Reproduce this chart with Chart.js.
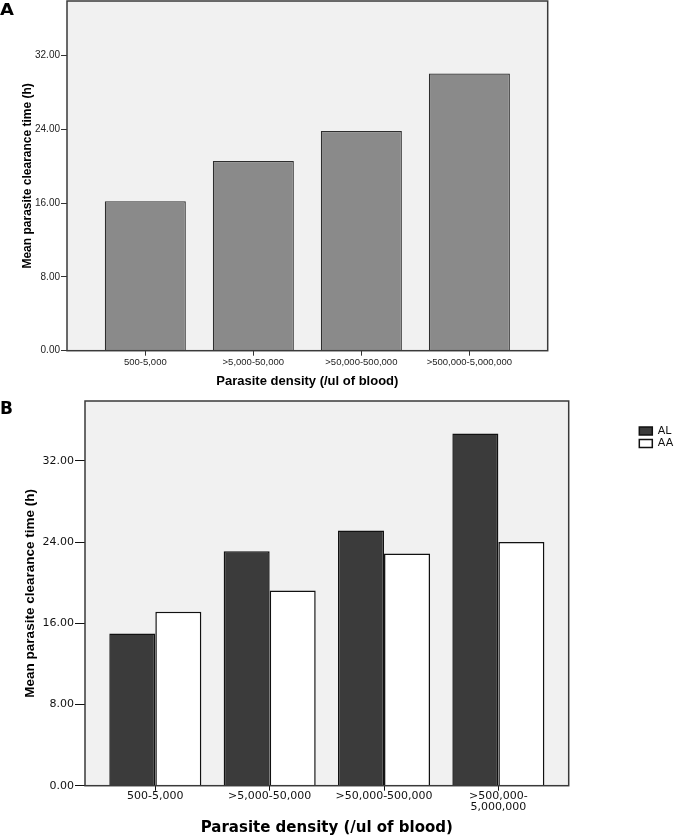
<!DOCTYPE html>
<html><head><meta charset="utf-8">
<script src="https://cdn.jsdelivr.net/npm/chart.js@4"></script>
<style>
html,body{margin:0;padding:0;background:#fff;width:675px;height:836px;overflow:hidden;position:relative;}
#wa{position:absolute;left:0;top:0;width:675px;height:390px;}
#wb{position:absolute;left:0;top:390px;width:675px;height:446px;overflow:hidden;}
.lab{position:absolute;left:0;font-family:"DejaVu Sans",sans-serif;font-weight:bold;color:#000;line-height:1;transform-origin:left top;}
</style></head><body>
<div id="wa"><canvas id="ca" width="675" height="390"></canvas></div>
<div id="wb"><canvas id="cb" width="710" height="446"></canvas></div>
<div class="lab" style="top:3px;font-size:15px;transform:scaleX(1.2)">A</div>
<div class="lab" style="top:400px;font-size:17px">B</div>
<script>
// ---- data ----
const categoriesA = ['500-5,000', '>5,000-50,000', '>50,000-500,000', '>500,000-5,000,000'];
const valuesA = [16.2, 20.55, 23.8, 30.05];
const categoriesB = ['500-5,000', '>5,000-50,000', '>50,000-500,000', ['>500,000-', '5,000,000']];
const seriesLabels = ['AL', 'AA'];
const seriesAL = [15.0, 23.1, 25.15, 34.7];
const seriesAA = [17.13, 19.24, 22.88, 24.0];
const yTickValues = [0, 8, 16, 24, 32];
const yMax = 37.9;
const yTitle = 'Mean parasite clearance time (h)';
const xTitle = 'Parasite density (/ul of blood)';

const ARIAL = '"Liberation Sans", Arial, sans-serif';
const DEJAVU = '"DejaVu Sans", sans-serif';

const panelBox = {
  id: 'panelBox',
  beforeDraw(chart) {
    const {ctx, chartArea: a} = chart;
    ctx.save();
    ctx.fillStyle = '#f1f1f1';
    ctx.fillRect(a.left, a.top, a.right - a.left, a.bottom - a.top);
    ctx.restore();
  },
  afterDatasetsDraw(chart) {
    const {ctx, chartArea: a} = chart;
    ctx.save();
    ctx.strokeStyle = '#3a3a3a';
    ctx.lineWidth = 1.5;
    ctx.strokeRect(a.left, a.top, a.right - a.left, a.bottom - a.top);
    ctx.restore();
  }
};

function pts(vals) { return vals.map((v, i) => ({x: i, y: v})); }
function zeroPad(s) { s.paddingTop = 0; s.paddingBottom = 0; s.paddingLeft = 0; s.paddingRight = 0; }

// ---- Chart A ----
new Chart(document.getElementById('ca'), {
  type: 'bar',
  data: {
    datasets: [{
      data: pts(valuesA),
      backgroundColor: '#8a8a8a',
      borderColor: '#2e2e2e',
      borderWidth: 1.2,
      barPercentage: 1,
      categoryPercentage: 0.75
    }]
  },
  options: {
    responsive: false,
    animation: false,
    layout: {padding: {top: 1, left: 0, right: 127.3, bottom: 0}},
    plugins: {legend: {display: false}, tooltip: {enabled: false}},
    scales: {
      x: {
        type: 'linear', min: -0.725, max: 3.725, offset: false,
        afterBuildTicks: s => { s.ticks = categoriesA.map((_, i) => ({value: i})); },
        afterFit: s => { s.height = 39.3; zeroPad(s); },
        ticks: {callback: v => categoriesA[v], font: {family: ARIAL, size: 9.5}, color: '#222', padding: 1, maxRotation: 0, autoSkip: false},
        grid: {display: true, drawOnChartArea: false, drawTicks: true, tickLength: 5, tickColor: '#333', offset: false},
        border: {display: false},
        title: {display: true, text: xTitle, font: {family: ARIAL, size: 13, weight: 'bold', lineHeight: 1}, color: '#000', padding: {top: 0, bottom: 2.5}}
      },
      y: {
        min: 0, max: yMax,
        afterBuildTicks: s => { s.ticks = yTickValues.map(v => ({value: v})); },
        afterFit: s => { s.width = 67; zeroPad(s); },
        ticks: {callback: v => Number(v).toFixed(2), font: {family: ARIAL, size: 10}, color: '#222', padding: 1},
        grid: {display: true, drawOnChartArea: false, drawTicks: true, tickLength: 6, tickColor: '#333'},
        border: {display: false},
        title: {display: true, text: yTitle, font: {family: ARIAL, size: 12, weight: 'bold', lineHeight: 1}, color: '#000', padding: {top: 21.5, bottom: 0}}
      }
    }
  },
  plugins: [panelBox]
});

// ---- Chart B ----
const legendFontSize = 11, legendBoxW = 13, legendPad = 1.5;
const cbEl = document.getElementById('cb');
const mctx = cbEl.getContext('2d');
mctx.font = 'normal ' + legendFontSize + 'px ' + DEJAVU;
const maxTextW = Math.max(...seriesLabels.map(t => mctx.measureText(t).width));
const legendWidth = legendPad + legendBoxW + legendFontSize / 2 + maxTextW + 10;
const legendLeft = 637.8;
const rightPadB = cbEl.width - legendLeft - legendWidth;

new Chart(cbEl, {
  type: 'bar',
  data: {
    datasets: [{
      label: seriesLabels[0],
      data: pts(seriesAL),
      backgroundColor: '#3b3b3b',
      borderColor: '#111',
      borderWidth: 1.5,
      barPercentage: 1,
      categoryPercentage: 0.805
    }, {
      label: seriesLabels[1],
      data: pts(seriesAA),
      backgroundColor: '#ffffff',
      borderColor: '#111',
      borderWidth: 1.5,
      barPercentage: 1,
      categoryPercentage: 0.805
    }]
  },
  options: {
    responsive: false,
    animation: false,
    layout: {padding: {top: 11, left: 0, right: rightPadB, bottom: 0}},
    plugins: {
      tooltip: {enabled: false},
      legend: {
        display: true, position: 'right', align: 'start',
        title: {display: true, text: ' ', padding: {top: 22, bottom: 0}, font: {size: 1, lineHeight: 1}},
        labels: {boxWidth: legendBoxW, boxHeight: 8, padding: legendPad, font: {family: DEJAVU, size: legendFontSize}, color: '#111'}
      }
    },
    scales: {
      x: {
        type: 'linear', min: -0.615, max: 3.615, offset: false,
        afterBuildTicks: s => { s.ticks = categoriesB.map((_, i) => ({value: i})); },
        afterFit: s => { s.height = 50.3; zeroPad(s); },
        ticks: {callback: v => categoriesB[v], font: {family: DEJAVU, size: 11, lineHeight: 1}, color: '#111', padding: 0, maxRotation: 0, autoSkip: false},
        grid: {display: true, drawOnChartArea: false, drawTicks: true, tickLength: 5, tickColor: '#111', offset: false},
        border: {display: false},
        title: {display: true, text: xTitle, font: {family: DEJAVU, size: 15, weight: 'bold', lineHeight: 1}, color: '#000', padding: {top: 0, bottom: 0}}
      },
      y: {
        min: 0, max: yMax,
        afterBuildTicks: s => { s.ticks = yTickValues.map(v => ({value: v})); },
        afterFit: s => { s.width = 85; zeroPad(s); },
        ticks: {callback: v => Number(v).toFixed(2), font: {family: DEJAVU, size: 11}, color: '#111', padding: 1},
        grid: {display: true, drawOnChartArea: false, drawTicks: true, tickLength: 10, tickColor: '#111'},
        border: {display: false},
        title: {display: true, text: yTitle, font: {family: ARIAL, size: 13.5, weight: 'bold', lineHeight: 1}, color: '#000', padding: {top: 23.25, bottom: 0}}
      },
      y2: {
        type: 'linear', position: 'right', display: true,
        grid: {display: false}, ticks: {display: false}, border: {display: false},
        afterFit: s => { s.width = 69.1; zeroPad(s); }
      }
    }
  },
  plugins: [panelBox]
});
</script>
</body></html>
